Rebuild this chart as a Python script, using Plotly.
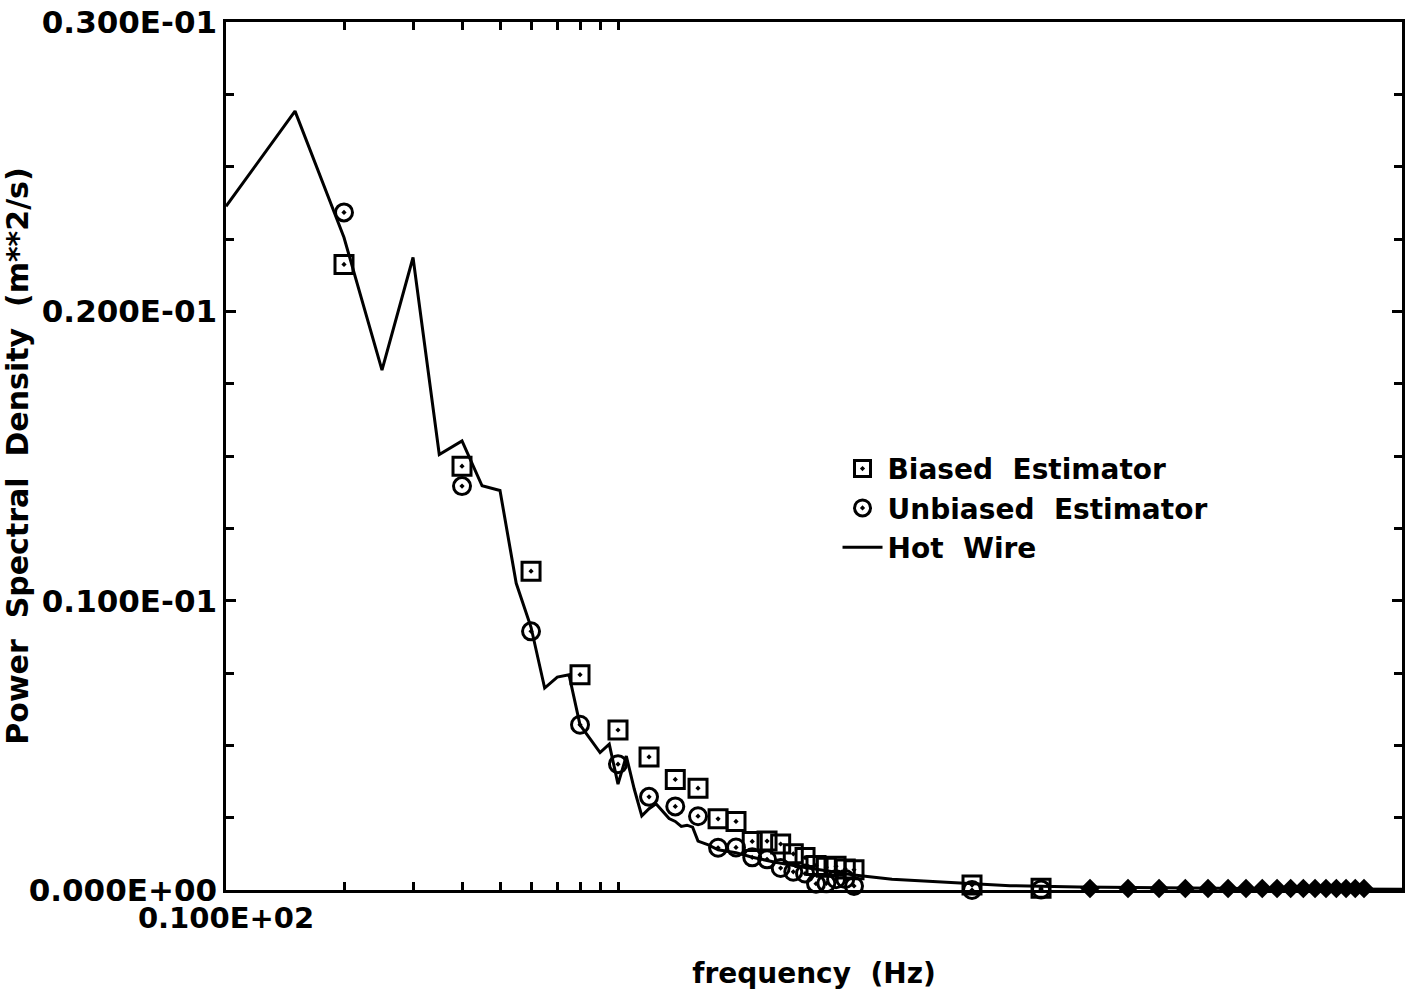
import plotly.graph_objects as go

# Hot wire spectrum (line)
hw_freq = [10, 15, 20, 25, 30, 35, 40, 45, 50, 55, 60, 65, 70, 75, 80, 85, 90, 95,
           100, 105, 110, 115, 120, 125, 130, 135, 140, 145, 150, 155, 160, 170, 180,
           200, 220, 250, 300, 350, 400, 500, 600, 800, 1000, 1500, 2000, 4000, 10000]
hw_psd = [0.02363, 0.02692, 0.02255, 0.01797, 0.02186, 0.01505, 0.01552, 0.01397,
          0.01381, 0.01060, 0.00908, 0.00698, 0.00736, 0.00744, 0.00571, 0.00520,
          0.00475, 0.00504, 0.00366, 0.00463, 0.00349, 0.00256, 0.00281, 0.00298,
          0.00271, 0.00247, 0.00237, 0.00220, 0.00224, 0.00217, 0.00169, 0.00156,
          0.00139, 0.00129, 0.00113, 0.00097, 0.00078, 0.00065, 0.00052, 0.00037,
          0.00031, 0.00020, 0.00015, 0.00010, 0.00008, 0.00005, 0.00003]

# Estimators
est_freq = [20, 40, 60, 80, 100, 120, 140, 160, 180, 200, 220, 240, 260, 280, 300,
            320, 340, 360, 380, 400, 800, 1200]
biased_psd = [0.02162, 0.01465, 0.01102, 0.00744, 0.00553, 0.00460, 0.00382, 0.00352,
              0.00246, 0.00237, 0.00168, 0.00169, 0.00159, 0.00125, 0.00112, 0.00085,
              0.00079, 0.00082, 0.00073, 0.00070, 0.00017, 0.00006]
unbiased_psd = [0.02342, 0.01396, 0.00894, 0.00571, 0.00435, 0.00322, 0.00289, 0.00255,
                0.00146, 0.00147, 0.00113, 0.00106, 0.00076, 0.00063, 0.00057, 0.00022,
                0.00023, 0.00037, 0.00038, 0.00014, 0.00000, 0.00002]

# High-frequency overlapping estimator points (drawn as blobs)
hf_freq = [1600, 2000, 2400, 2800, 3200, 3600, 4000, 4400, 4800, 5200, 5600, 6000,
           6400, 6800, 7200, 7600, 8000]
hf_psd = [0.00005, 0.00005, 0.00005, 0.00005, 0.00005, 0.00005, 0.00005, 0.00005,
          0.00005, 0.00005, 0.00005, 0.00005, 0.00005, 0.00005, 0.00005, 0.00005,
          0.00005]

y_tickvals = [0.0, 0.01, 0.02, 0.03]
y_ticktext = ["0.000E+00", "0.100E-01", "0.200E-01", "0.300E-01"]
x_tickvals = [10]
x_ticktext = ["0.100E+02"]
x_minor = [20, 30, 40, 50, 60, 70, 80, 90, 100]

FONT = "DejaVu Sans"

fig = go.Figure()
fig.add_trace(go.Scatter(
    x=est_freq, y=biased_psd, mode="markers", name="Biased  Estimator",
    marker=dict(symbol="square-open-dot", size=18, color="black",
                line=dict(color="black", width=3)),
    cliponaxis=False))
fig.add_trace(go.Scatter(
    x=est_freq, y=unbiased_psd, mode="markers", name="Unbiased  Estimator",
    marker=dict(symbol="circle-open-dot", size=17, color="black",
                line=dict(color="black", width=3)),
    cliponaxis=False))
fig.add_trace(go.Scatter(
    x=hw_freq, y=hw_psd, mode="lines", name="Hot  Wire",
    line=dict(color="black", width=3)))
fig.add_trace(go.Scatter(
    x=hf_freq, y=hf_psd, mode="markers", showlegend=False,
    marker=dict(symbol="diamond", size=15, color="black"),
    cliponaxis=False))

fig.update_layout(
    width=1414, height=1000,
    margin=dict(l=226, r=12, t=22, b=110),
    paper_bgcolor="white", plot_bgcolor="white",
    font=dict(family=FONT, size=26, color="black", weight="bold"),
    showlegend=True,
    legend=dict(x=0.52, y=0.514, xanchor="left", yanchor="top",
                bgcolor="rgba(0,0,0,0)", font=dict(size=28, family=FONT, weight="bold"),
                tracegroupgap=0, itemwidth=40),
)
fig.update_xaxes(
    type="log", range=[1, 4], automargin=False,
    tickmode="array", tickvals=x_tickvals, ticktext=x_ticktext,
    ticks="inside", ticklen=10, tickwidth=2.5, tickcolor="black",
    ticklabelstandoff=0,
    showline=True, linecolor="black", linewidth=2.5, mirror="ticks",
    showgrid=False, zeroline=False,
    minor=dict(tickmode="array", tickvals=x_minor, ticks="inside", ticklen=8,
               tickwidth=2.5, tickcolor="black", showgrid=False),
    title=dict(text="frequency  (Hz)", standoff=30, font=dict(size=28)),
    tickfont=dict(size=29),
)
fig.update_yaxes(
    range=[0, 0.03], automargin=False,
    tickmode="array", tickvals=y_tickvals, ticktext=y_ticktext,
    ticks="inside", ticklen=10, tickwidth=2.5, tickcolor="black",
    showline=True, linecolor="black", linewidth=2.5, mirror="ticks",
    showgrid=False, zeroline=False,
    minor=dict(dtick=0.0025, tick0=0, ticks="inside", ticklen=8, tickwidth=2.5,
               tickcolor="black", showgrid=False),
    title=dict(text="Power  Spectral  Density  (m**2/s)", standoff=4, font=dict(size=30)),
    tickfont=dict(size=31),
)

fig.write_html("out.html")
